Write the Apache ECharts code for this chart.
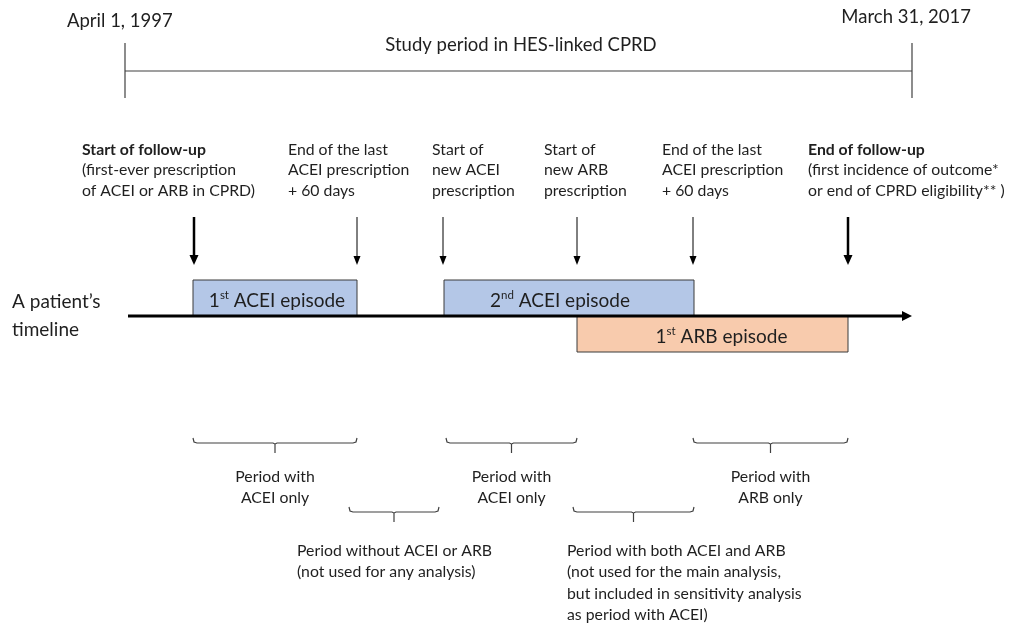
<!DOCTYPE html>
<html>
<head>
<meta charset="utf-8">
<script src="https://cdn.jsdelivr.net/npm/echarts@6/dist/echarts.min.js"></script>
<style>
  html, body { margin: 0; background: #fff; }
  #chart { width: 1014px; height: 628px; }
</style>
</head>
<body>
<div id="chart"></div>
<script>
// study window
const studyBounds = [125, 912];
const studyDates = ['April 1, 1997', 'March 31, 2017'];
const studyTitle = 'Study period in HES-linked CPRD';

// patient timeline
const timelineSpan = [128, 912];
const timelineLabel = ['A patient\u2019s', 'timeline'];

// treatment episodes
const episodeOrdinal = ['1', '2', '1'];
const episodeSuffix = ['st', 'nd', 'st'];
const episodeDrug = ['ACEI', 'ACEI', 'ARB'];
const episodeStart = [193, 444, 577];
const episodeEnd = [357, 694, 848];

// events marked with arrows
const eventTime = [194, 357, 443, 577, 693, 848];
const eventKind = ['followup', 'rx', 'rx', 'rx', 'rx', 'followup'];
const eventTitle = ['Start of follow-up', '', '', '', '', 'End of follow-up'];
const eventText = [
  ['(first-ever prescription', 'of ACEI or ARB in CPRD)'],
  ['End of the last', 'ACEI prescription', '+ 60 days'],
  ['Start of', 'new ACEI', 'prescription'],
  ['Start of', 'new ARB', 'prescription'],
  ['End of the last', 'ACEI prescription', '+ 60 days'],
  ['(first incidence of outcome*', 'or end of CPRD eligibility** )']
];

// analysis periods
const periodStart = [193, 446, 693, 349, 573];
const periodEnd = [357, 577, 848, 439, 694];
const periodRow = [0, 0, 0, 1, 1];
const periodText = [
  ['Period with', 'ACEI only'],
  ['Period with', 'ACEI only'],
  ['Period with', 'ARB only'],
  ['Period without ACEI or ARB', '(not used for any analysis)'],
  ['Period with both ACEI and ARB', '(not used for the main analysis,', 'but included in sensitivity analysis', 'as period with ACEI)']
];

// layout (in canvas units, y grows downward)
const FONT = 'Lato, "Open Sans", sans-serif';
const INK = '#1f1f1f';
const LINE_Y = 316;
const eventLabelX = [82, 288, 432, 544, 662, 808];
const episodeTextDx = [2, -9, 9];
const lowerLabelX = [297, 567];

const chart = echarts.init(document.getElementById('chart'), null, { renderer: 'canvas' });

function pt(api, x, y) { return api.coord([x, y]); }

function txt(p, text, extra) {
  return {
    type: 'text',
    style: Object.assign({
      x: p[0], y: p[1], text: text, fill: INK,
      font: '15.8px ' + FONT, align: 'left', verticalAlign: 'middle'
    }, extra || {})
  };
}

function arrowHead(p, w, h, color) {
  return {
    type: 'polygon',
    shape: { points: [[p[0] - w / 2, p[1] - h], [p[0] + w / 2, p[1] - h], [p[0], p[1]]] },
    style: { fill: color }
  };
}

const option = {
  animation: false,
  grid: { left: 0, right: 0, top: 0, bottom: 0 },
  xAxis: { type: 'value', min: 0, max: 1014, show: false },
  yAxis: { type: 'value', min: 0, max: 628, inverse: true, show: false },
  series: [
    // study period header
    {
      type: 'custom',
      data: [studyBounds],
      renderItem(params, api) {
        const a = api.value(0), b = api.value(1);
        const l = pt(api, a, 71), r = pt(api, b, 71);
        const line = { stroke: '#404040', lineWidth: 1.2 };
        return {
          type: 'group',
          children: [
            { type: 'line', shape: { x1: l[0], y1: pt(api, a, 43)[1], x2: l[0], y2: pt(api, a, 98)[1] }, style: line },
            { type: 'line', shape: { x1: r[0], y1: pt(api, b, 43)[1], x2: r[0], y2: pt(api, b, 98)[1] }, style: line },
            { type: 'line', shape: { x1: l[0], y1: l[1], x2: r[0], y2: r[1] }, style: line },
            txt(pt(api, a - 58, 21), studyDates[0], { font: '18.5px ' + FONT }),
            txt(pt(api, b + 59, 17.5), studyDates[1], { font: '18.5px ' + FONT, align: 'right' }),
            txt(pt(api, 521, 45), studyTitle, { font: '18.5px ' + FONT, align: 'center' })
          ]
        };
      }
    },
    // patient timeline axis
    {
      type: 'custom',
      data: [timelineSpan],
      z: 3,
      renderItem(params, api) {
        const l = pt(api, api.value(0), LINE_Y), r = pt(api, api.value(1), LINE_Y);
        return {
          type: 'group',
          children: [
            { type: 'line', shape: { x1: l[0], y1: l[1], x2: r[0] - 8, y2: r[1] }, style: { stroke: '#000', lineWidth: 3 } },
            { type: 'polygon', shape: { points: [[r[0] - 10, r[1] - 5], [r[0] - 10, r[1] + 5], [r[0], r[1]]] }, style: { fill: '#000' } },
            txt(pt(api, 12, 302), timelineLabel[0], { font: '19px ' + FONT }),
            txt(pt(api, 12, 330), timelineLabel[1], { font: '19px ' + FONT })
          ]
        };
      }
    },
    // episode boxes
    {
      type: 'custom',
      z: 2,
      data: episodeStart.map((s, i) => [s, episodeEnd[i], i]),
      renderItem(params, api) {
        const i = api.value(2);
        const isAcei = episodeDrug[i] === 'ACEI';
        const top = isAcei ? 280 : LINE_Y, bottom = isAcei ? LINE_Y : 352;
        const p0 = pt(api, api.value(0), top), p1 = pt(api, api.value(1), bottom);
        return {
          type: 'group',
          children: [
            {
              type: 'rect',
              shape: { x: p0[0], y: p0[1], width: p1[0] - p0[0], height: p1[1] - p0[1] },
              style: { fill: isAcei ? '#b4c7e7' : '#f8cbad', stroke: '#3a3a3a', lineWidth: 1 }
            },
            {
              type: 'text',
              style: {
                x: (p0[0] + p1[0]) / 2 + episodeTextDx[i], y: (p0[1] + p1[1]) / 2 + 1,
                text: '{n|' + episodeOrdinal[i] + '}{s|' + episodeSuffix[i] + '}{n| ' + episodeDrug[i] + ' episode}',
                align: 'center', verticalAlign: 'middle',
                rich: {
                  n: { fontSize: 19, fontFamily: FONT, fill: INK, lineHeight: 22, verticalAlign: 'bottom' },
                  s: { fontSize: 11.5, fontFamily: FONT, fill: INK, lineHeight: 22, verticalAlign: 'top', padding: [1, 0, 0, 0] }
                }
              }
            }
          ]
        };
      }
    },
    // event arrows and labels
    {
      type: 'custom',
      data: eventTime.map((t, i) => [t, i]),
      renderItem(params, api) {
        const i = api.value(1);
        const bold = eventKind[i] === 'followup';
        const top = pt(api, api.value(0), 217);
        const tip = pt(api, api.value(0), 265);
        const children = [
          { type: 'line', shape: { x1: top[0], y1: top[1], x2: tip[0], y2: tip[1] - 8 }, style: { stroke: '#000', lineWidth: bold ? 2.5 : 1 } },
          arrowHead(tip, bold ? 9 : 7, bold ? 10 : 9, '#000')
        ];
        const lines = eventTitle[i] ? [eventTitle[i]].concat(eventText[i]) : eventText[i];
        lines.forEach((s, k) => {
          const isTitle = eventTitle[i] && k === 0;
          children.push(txt(pt(api, eventLabelX[i], 150 + k * 20.3), s, { font: (isTitle ? 'bold ' : '') + '15.8px ' + FONT }));
        });
        return { type: 'group', children: children };
      }
    },
    // period brackets and labels
    {
      type: 'custom',
      data: periodStart.map((s, i) => [s, periodEnd[i], i]),
      renderItem(params, api) {
        const i = api.value(2);
        const row = periodRow[i];
        const y = row === 0 ? 443 : 512;
        const a = pt(api, api.value(0), y), b = pt(api, api.value(1), y);
        const mid = (a[0] + b[0]) / 2;
        const yb = a[1];
        const children = [{
          type: 'polyline',
          shape: { points: [[a[0], yb - 5], [a[0] + 1, yb - 1], [a[0] + 4, yb], [mid - 2, yb], [mid, yb + 1], [mid, yb + 10], [mid, yb + 1], [mid + 2, yb], [b[0] - 4, yb], [b[0] - 1, yb - 1], [b[0], yb - 5]] },
          style: { stroke: '#404040', lineWidth: 1.2, fill: null }
        }];
        periodText[i].forEach((s, k) => {
          if (row === 0) {
            children.push(txt(pt(api, (api.value(0) + api.value(1)) / 2, 477 + k * 20.5), s, { align: 'center' }));
          } else {
            children.push(txt(pt(api, lowerLabelX[i - 3], 551 + k * 21.3), s));
          }
        });
        return { type: 'group', children: children };
      }
    }
  ]
};

chart.setOption(option);
</script>
</body>
</html>
